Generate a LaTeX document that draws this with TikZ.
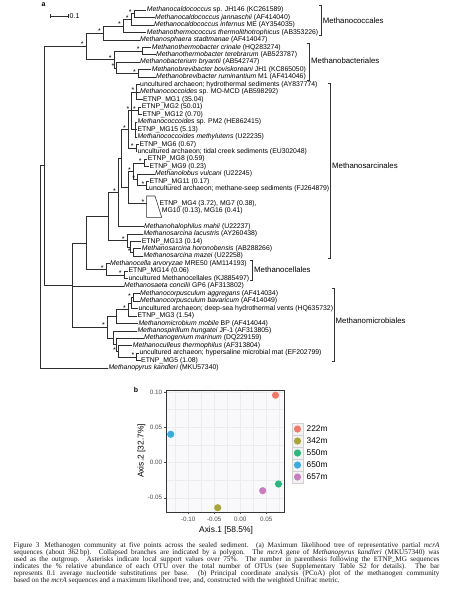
\documentclass[tikz,border=0pt]{standalone}
\usepackage{fontspec}
\setmainfont{Liberation Serif}
\newfontfamily\sanf{Liberation Sans}
\newcommand\leaffont{\sanf\fontsize{6.85}{8}\selectfont}
\newcommand\astfont{\sanf\fontsize{7}{7}\selectfont}
\newcommand\cladefont{\sanf\fontsize{7.8}{9}\selectfont}
\newcommand\tickfont{\sanf\fontsize{6.3}{7}\selectfont}
\newcommand\axtfont{\sanf\fontsize{8.4}{9}\selectfont}
\newcommand\legfont{\sanf\fontsize{8.3}{9}\selectfont}
\newcommand\capfont{\fontsize{7.2}{7}\selectfont}
\definecolor{cA}{HTML}{F07A6C}
\definecolor{cB}{HTML}{A8A53A}
\definecolor{cC}{HTML}{2BB77E}
\definecolor{cD}{HTML}{3AACE0}
\definecolor{cE}{HTML}{C77DBF}
\definecolor{pbg}{HTML}{F9F9FB}
\definecolor{gridc}{HTML}{ECECEE}
\newcommand\edgeL[2]{\draw[br] (#1) |- ([xshift=-0.5pt]L#2.west);}
\newcommand\edgeN[2]{\draw[br] (#1) |- (#2);}
\newcommand\astr[2]{\node[ast] (s#1) at ([xshift=-3.8pt,yshift=1.6pt]#2) {*};}
\begin{document}
\begin{tikzpicture}[x=1pt,y=-1pt,
  br/.style={draw=black!82,line width=0.55pt},
  leaf/.style={anchor=west,inner sep=0pt,font=\leaffont,text height=5pt,text depth=1.5pt},
  ast/.style={inner sep=0pt,font=\astfont},
  clade/.style={anchor=west,inner sep=0pt,font=\cladefont},
  brk/.style={draw=black!80,line width=0.6pt},
  capl/.style={anchor=base west,inner sep=0pt,font=\capfont,text=black!90},
  tkl/.style={inner sep=0pt,font=\tickfont,text=black!70},
  gmaj/.style={draw=gridc,line width=0.45pt},
  gmin/.style={draw=gridc,line width=0.25pt},
  pt/.style={line width=0pt}]
\path[fill=white,use as bounding box] (0,0) rectangle (448,589);

% panel label and scale bar
\node[inner sep=0pt,font=\sanf\bfseries\fontsize{7}{8}\selectfont] (pa) at (43.5,5) {a};
\draw[br] (50,16) -- (68.3,16);
\draw[br] (50,14.3) -- (50,17.7);
\draw[br] (68.3,14.3) -- (68.3,17.7);
\node[anchor=west,inner sep=0pt,font=\sanf\fontsize{7}{8}\selectfont] (sb) at (69.5,16) {0.1};

% leaves
\node[leaf] (L0) at (146.7,10.00) {\textit{Methanocaldococcus} sp. JH146 (KC261589)};
\node[leaf] (L1) at (155,17.46) {\textit{Methanocaldococcus jannaschii} (AF414040)};
\node[leaf] (L2) at (154,24.92) {\textit{Methanocaldococcus infernus} ME (AY354035)};
\node[leaf] (L3) at (146.7,32.38) {\textit{Methanothermococcus thermolithotrophicus} (AB353226)};
\node[leaf] (L4) at (140,39.84) {\textit{Methanosphaera stadtmanae} (AF414047)};
\node[leaf] (L5) at (151.7,47.30) {\textit{Methanothermobacter crinale} (HQ283274)};
\node[leaf] (L6) at (156,54.76) {\textit{Methanothermobacter terebrarum} (AB523787)};
\node[leaf] (L7) at (140,62.22) {\textit{Methanobacterium bryantii} (AB542747)};
\node[leaf] (L8) at (151.7,69.68) {\textit{Methanobrevibacter boviskoreani} JH1 (KC865050)};
\node[leaf] (L9) at (156,77.14) {\textit{Methanobrevibacter ruminantium} M1 (AF414046)};
\node[leaf] (L10) at (140,84.60) {uncultured archaeon; hydrothermal sediments (AY837774)};
\node[leaf] (L11) at (140,92.06) {\textit{Methanococcoides} sp. MO-MCD (AB598292)};
\node[leaf] (L12) at (143,99.52) {ETNP\_MG1 (35.04)};
\node[leaf] (L13) at (141.7,106.98) {ETNP\_MG2 (50.01)};
\node[leaf] (L14) at (142.3,114.44) {ETNP\_MG12 (0.70)};
\node[leaf] (L15) at (137.3,121.90) {\textit{Methanococcoides} sp. PM2 (HE862415)};
\node[leaf] (L16) at (137.3,129.36) {ETNP\_MG15 (5.13)};
\node[leaf] (L17) at (137.3,136.82) {\textit{Methanococcoides methylutens} (U22235)};
\node[leaf] (L18) at (139.3,144.28) {ETNP\_MG6 (0.67)};
\node[leaf] (L19) at (137.3,151.74) {uncultured archaeon; tidal creek sediments (EU302048)};
\node[leaf] (L20) at (147.7,159.20) {ETNP\_MG8 (0.59)};
\node[leaf] (L21) at (149.3,166.66) {ETNP\_MG9 (0.23)};
\node[leaf] (L22) at (155,174.12) {\textit{Methanolobus vulcani} (U22245)};
\node[leaf] (L23) at (149.3,181.58) {ETNP\_MG11 (0.17)};
\node[leaf] (L24) at (149,189.04) {uncultured archaeon; methane-seep sediments (FJ264879)};
\node[leaf] (L25) at (159.3,203.5) {ETNP\_MG4 (3.72), MG7 (0.38),};
\node[leaf] (L26) at (161.7,210.9) {MG10 (0.13), MG16 (0.41)};
\node[leaf] (L29) at (144,226.34) {\textit{Methanohalophilus mahii} (U22237)};
\node[leaf] (L30) at (143.3,233.80) {\textit{Methanosarcina lacustris} (AY260438)};
\node[leaf] (L31) at (141.7,241.26) {ETNP\_MG13 (0.14)};
\node[leaf] (L32) at (141.7,248.72) {\textit{Methanosarcina horonobensis} (AB288266)};
\node[leaf] (L33) at (143.3,256.18) {\textit{Methanosarcina mazei} (U22258)};
\node[leaf] (L34) at (110,263.64) {\textit{Methanocella arvoryzae} MRE50 (AM114193)};
\node[leaf] (L35) at (128.3,271.10) {ETNP\_MG14 (0.06)};
\node[leaf] (L36) at (128.3,278.56) {uncultured Methanocellales (KJ885497)};
\node[leaf] (L37) at (124,286.02) {\textit{Methanosaeta concilii} GP6 (AF313802)};
\node[leaf] (L38) at (140,293.48) {\textit{Methanocorpusculum aggregans} (AF414034)};
\node[leaf] (L39) at (140,300.94) {\textit{Methanocorpusculum bavaricum} (AF414049)};
\node[leaf] (L40) at (138.3,308.40) {uncultured archaeon; deep-sea hydrothermal vents (HQ635732)};
\node[leaf] (L41) at (137.3,315.86) {ETNP\_MG3 (1.54)};
\node[leaf] (L42) at (138.3,323.32) {\textit{Methanomicrobium mobile} BP (AF414044)};
\node[leaf] (L43) at (137.3,330.78) {\textit{Methanospirillum hungatei} JF-1 (AF313805)};
\node[leaf] (L44) at (144,338.24) {\textit{Methanogenium marinum} (DQ229159)};
\node[leaf] (L45) at (132.7,345.70) {\textit{Methanoculleus thermophilus} (AF313804)};
\node[leaf] (L46) at (139.3,353.16) {uncultured archaeon; hypersaline microbial mat (EF202799)};
\node[leaf] (L47) at (141,360.62) {ETNP\_MG5 (1.08)};
\node[leaf] (L48) at (108.3,368.08) {\textit{Methanopyrus kandleri} (MKU57340)};

% internal nodes
\coordinate (B3) at (134,13.73);
\coordinate (B2) at (131,19.33);
\coordinate (B1) at (123.3,25.86);
\coordinate (B) at (103.3,32.85);
\coordinate (C1) at (142,51.03);
\coordinate (C3) at (138.3,73.41);
\coordinate (C2) at (116.7,67.82);
\coordinate (C) at (114,59.43);
\coordinate (A) at (86,46.14);
\coordinate (H1) at (136.7,92.06);
\coordinate (H2) at (138.3,110.71);
\coordinate (H3) at (135,129.36);
\coordinate (U1a) at (131.7,110.71);
\coordinate (U1b) at (136,148.01);
\coordinate (U1) at (128.3,129.36);
\coordinate (G1) at (144,162.93);
\coordinate (G3) at (146.7,185.31);
\coordinate (G2) at (137.5,179.72);
\coordinate (U2a) at (133.3,171.33);
\coordinate (poly) at (146.7,203.5);
\coordinate (U2) at (128.3,187.4);
\coordinate (U) at (121.7,158.38);
\coordinate (SarcA) at (118.3,192.36);
\coordinate (SB2) at (133,252.45);
\coordinate (SB1) at (130,246.86);
\coordinate (SB) at (127,240.33);
\coordinate (Sarc) at (108,216.35);
\coordinate (Cell1) at (124,274.83);
\coordinate (Cell) at (106,269.24);
\coordinate (S) at (86,242.8);
\coordinate (AB) at (133.3,297.21);
\coordinate (Ag) at (131,302.81);
\coordinate (Ag2) at (128.3,309.33);
\coordinate (Mi1) at (116.7,316.33);
\coordinate (HM) at (136.7,356.89);
\coordinate (TH) at (118.3,351.3);
\coordinate (Mi2a) at (116,344.77);
\coordinate (Mi2) at (113.3,337.78);
\coordinate (Micro) at (107.3,327.05);
\coordinate (M) at (72.7,284.9);
\coordinate (I) at (44,165.5);
\coordinate (R) at (40.7,266.8);

% edges
\edgeL{B3}{0}\edgeL{B3}{1}
\edgeN{B2}{B3}\edgeL{B2}{2}
\edgeN{B1}{B2}\edgeL{B1}{3}
\edgeN{B}{B1}\edgeL{B}{4}
\edgeL{C1}{5}\edgeL{C1}{6}
\edgeL{C3}{8}\edgeL{C3}{9}
\edgeL{C2}{7}\edgeN{C2}{C3}
\edgeN{C}{C1}\edgeN{C}{C2}
\edgeN{A}{B}\edgeN{A}{C}
\edgeL{H1}{10}\edgeL{H1}{11}\edgeL{H1}{12}
\edgeL{H2}{13}\edgeL{H2}{14}
\edgeL{H3}{15}\edgeL{H3}{16}\edgeL{H3}{17}
\edgeN{U1a}{H1}\edgeN{U1a}{H2}\edgeN{U1a}{H3}
\edgeL{U1b}{18}\edgeL{U1b}{19}
\edgeN{U1}{U1a}\edgeN{U1}{U1b}
\edgeL{G1}{20}\edgeL{G1}{21}
\edgeL{G3}{23}\edgeL{G3}{24}
\edgeL{G2}{22}\edgeN{G2}{G3}
\edgeN{U2a}{G1}\edgeN{U2a}{G2}
\edgeN{U2}{U2a}\edgeN{U2}{poly}
\edgeN{U}{U1}\edgeN{U}{U2}
\edgeN{SarcA}{U}\edgeL{SarcA}{29}
\edgeL{SB2}{32}\edgeL{SB2}{33}
\edgeL{SB1}{31}\edgeN{SB1}{SB2}
\edgeL{SB}{30}\edgeN{SB}{SB1}
\edgeN{Sarc}{SarcA}\edgeN{Sarc}{SB}
\edgeL{Cell1}{35}\edgeL{Cell1}{36}
\edgeL{Cell}{34}\edgeN{Cell}{Cell1}
\edgeN{S}{Sarc}\edgeN{S}{Cell}
\edgeL{AB}{38}\edgeL{AB}{39}
\edgeN{Ag}{AB}\edgeL{Ag}{40}
\edgeN{Ag2}{Ag}\edgeL{Ag2}{41}
\edgeN{Mi1}{Ag2}\edgeL{Mi1}{42}
\edgeL{HM}{46}\edgeL{HM}{47}
\edgeL{TH}{45}\edgeN{TH}{HM}
\edgeL{Mi2a}{44}\edgeN{Mi2a}{TH}
\edgeL{Mi2}{43}\edgeN{Mi2}{Mi2a}
\edgeN{Micro}{Mi1}\edgeN{Micro}{Mi2}
\edgeN{M}{S}\edgeL{M}{37}\edgeN{M}{Micro}
\edgeN{I}{A}\edgeN{I}{M}
\edgeN{R}{I}\edgeL{R}{48}

% collapsed clade
\draw[br,line join=miter] (poly) -- (146.7,196) -- (155,196) -- (161.7,217.3) -- (146.7,217.3) -- cycle;

% asterisks
\astr{1}{B3}\astr{2}{B2}\astr{3}{B1}\astr{4}{B}\astr{5}{A}
\astr{6}{C}\astr{7}{C1}\astr{8}{C2}\astr{9}{C3}
\astr{10}{H1}\astr{11}{H2}\astr{12}{U1a}\astr{13}{U1}\astr{14}{U1b}
\astr{15}{G1}\astr{16}{G2}\astr{17}{G3}\astr{18}{U2a}\astr{19}{poly}
\astr{20}{SarcA}\astr{21}{SB}\astr{22}{SB2}\astr{23}{Cell}\astr{24}{Cell1}
\astr{25}{Micro}\astr{26}{Ag2}\astr{27}{AB}\astr{28}{TH}\astr{29}{HM}

% clade brackets
\draw[brk] (319.2,5) -- (321.7,5) -- (321.7,35) -- (319.2,35);
\node[clade] (kMcoc) at (322.7,20.5) {Methanococcales};
\draw[brk] (306.8,43.3) -- (309.3,43.3) -- (309.3,80) -- (306.8,80);
\node[clade] (kMbac) at (311,60.5) {Methanobacteriales};
\draw[brk] (327.5,83.3) -- (330,83.3) -- (330,258.3) -- (327.5,258.3);
\node[clade] (kMsar) at (332,166) {Methanosarcinales};
\draw[brk] (250.2,260) -- (252.7,260) -- (252.7,280.7) -- (250.2,280.7);
\node[clade] (kMcel) at (254,270) {Methanocellales};
\draw[brk] (331.8,288.3) -- (334.3,288.3) -- (334.3,361.7) -- (331.8,361.7);
\node[clade] (kMmic) at (335.5,321) {Methanomicrobiales};

% ---------- panel b ----------
\node[inner sep=0pt,font=\sanf\bfseries\fontsize{7}{8}\selectfont] (pb) at (136,389.5) {b};
\fill[pbg] (166,390) rectangle (284,512);
\foreach \gx in {175.3,201.3,227.3,253.3,279.3} \draw[gmin] (\gx,390) -- (\gx,512);
\foreach \gy in {409.55,444.85,480.15} \draw[gmin] (166,\gy) -- (284,\gy);
\foreach \gx in {188.3,214.3,240.3,266.3} \draw[gmaj] (\gx,390) -- (\gx,512);
\foreach \gy in {391.9,427.2,462.5,497.8} \draw[gmaj] (166,\gy) -- (284,\gy);
% points
\fill[cA] (275.5,395.2) circle (3.6pt);
\fill[cB] (217.7,507.7) circle (3.6pt);
\fill[cC] (278.5,484) circle (3.6pt);
\fill[cD] (170.7,434.3) circle (3.6pt);
\fill[cE] (262.7,490.7) circle (3.6pt);
\draw[draw=black!80,line width=0.6pt] (166,390) rectangle (284,512);
% ticks
\foreach \gx/\lab in {188.3/-0.10,214.3/-0.05,240.3/0.00,266.3/0.05}{
  \draw[draw=black!70,line width=0.45pt] (\gx,512) -- (\gx,514.3);
  \node[tkl] at (\gx,519.6) {\lab};}
\foreach \gy/\lab in {391.9/0.10,427.2/0.05,462.5/0.00,497.8/-0.05}{
  \draw[draw=black!70,line width=0.45pt] (166,\gy) -- (163.7,\gy);
  \node[tkl,anchor=east] at (162.3,\gy) {\lab};}
\node[inner sep=0pt,font=\axtfont] (ax1) at (226,530.5) {Axis.1 [58.5\%]};
\node[inner sep=0pt,font=\axtfont,rotate=90] (ax2) at (141.5,451) {Axis.2 [32.7\%]};
% legend
\foreach \k/\c/\lab in {0/cA/222m,1/cB/342m,2/cC/550m,3/cD/650m,4/cE/657m}{
  \draw[fill=black!5,draw=black!18,line width=0.35pt] (291.7,{423+12*\k}) rectangle (303.3,{435+12*\k});
  \fill[\c] (297.5,{429+12*\k}) circle (3.6pt);
  \node[anchor=west,inner sep=0pt,font=\legfont] at (306.5,{429+12*\k}) {\lab};}

% ---------- caption ----------
\node[capl] (cap1) at (13.3,547.9) {\makebox[426pt][s]{Figure 3\hspace{5pt}Methanogen community at five points across the sealed sediment. (a) Maximum likelihood tree of representative partial \textit{mcrA}}};
\node[capl] (cap2) at (13.3,554.9) {\makebox[426pt][s]{sequences (about 362\,bp). Collapsed branches are indicated by a polygon. The \textit{mcrA} gene of \textit{Methanopyrus kandleri} (MKU57340) was}};
\node[capl] (cap3) at (13.3,561.9) {\makebox[426pt][s]{used as the outgroup. Asterisks indicate local support values over 75\%. The number in parenthesis following the ETNP\_MG sequences}};
\node[capl] (cap4) at (13.3,568.9) {\makebox[426pt][s]{indicates the \% relative abundance of each OTU over the total number of OTUs (see Supplementary Table S2 for details). The bar}};
\node[capl] (cap5) at (13.3,575.9) {\makebox[426pt][s]{represents 0.1 average nucleotide substitutions per base. (b) Principal coordinate analysis (PCoA) plot of the methanogen community}};
\node[capl] (cap6) at (13.3,582.9) {based on the \textit{mcrA} sequences and a maximum likelihood tree, and, constructed with the weighted Unifrac metric.};
\end{tikzpicture}
\end{document}
